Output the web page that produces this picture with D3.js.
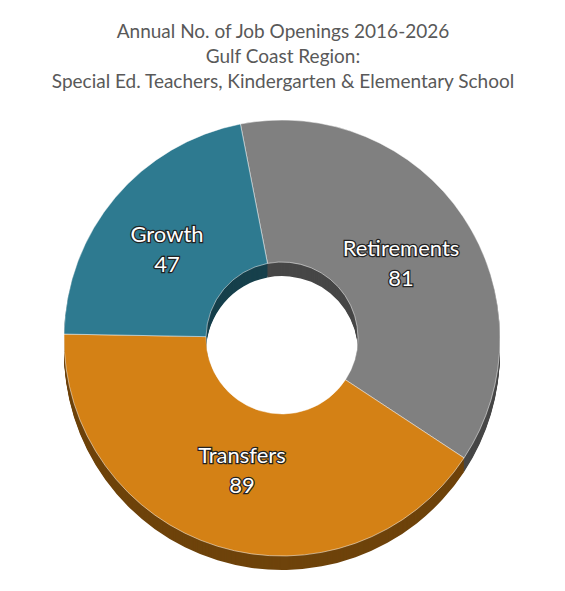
<!DOCTYPE html>
<html><head><meta charset="utf-8">
<script src="https://cdn.jsdelivr.net/npm/d3@7"></script>
<style>body{margin:0;background:#fff}svg{display:block}</style>
</head><body>
<svg id="chart" width="565" height="591"></svg>
<script>
const categories = ["Retirements", "Transfers", "Growth"];
const values = [81, 89, 47];
const topColors = ["#808080", "#d48115", "#2e7a90"];
const sideColors = ["#474747", "#6e430b", "#17404c"];
const titleLines = ["Annual No. of Job Openings 2016-2026", "Gulf Coast Region:", "Special Ed. Teachers, Kindergarten & Elementary School"];

const svg = d3.select("#chart");
const cx = 282, cy = 338, rOuter = 218, rInner = 76, depth = 14;
const start = -11 * Math.PI / 180;

svg.selectAll("text.title").data(titleLines).join("text")
  .attr("class", "title")
  .attr("x", 283).attr("y", (d, i) => 38 + i * 25)
  .attr("text-anchor", "middle")
  .style("font-family", "Lato, 'DejaVu Sans', sans-serif")
  .style("font-size", "19px").style("fill", "#595959")
  .text(d => d);

const pie = d3.pie().sort(null).startAngle(start).endAngle(start + 2 * Math.PI);
const arcs = pie(values);
const arc = d3.arc().innerRadius(rInner).outerRadius(rOuter);

// extrusion layers
for (let k = depth; k > 0; k -= 1) {
  svg.append("g").attr("transform", `translate(${cx},${cy + k})`)
    .selectAll("path").data(arcs).join("path")
    .attr("d", arc).attr("fill", (d, i) => sideColors[i]);
}

const face = svg.append("g").attr("transform", `translate(${cx},${cy})`);
face.selectAll("path").data(arcs).join("path")
  .attr("d", arc).attr("fill", (d, i) => topColors[i])
  .attr("stroke", "#fff").attr("stroke-width", 0.5);

const labelPos = [[119, -82], [-40, 125], [-115, -96]];
const labels = face.selectAll("g.lab").data(arcs).join("g")
  .attr("transform", (d, i) => `translate(${labelPos[i][0]},${labelPos[i][1]})`);
[categories, values].forEach((arr, row) => {
  labels.append("text")
    .attr("y", row * 30)
    .attr("text-anchor", "middle")
    .style("font-family", "Lato, 'DejaVu Sans', sans-serif")
    .style("font-size", "22px").style("fill", "#fff")
    .style("stroke", "#222").style("stroke-width", 2.5).style("paint-order", "stroke")
    .text((d, i) => arr[i]);
});
</script>
</body></html>
